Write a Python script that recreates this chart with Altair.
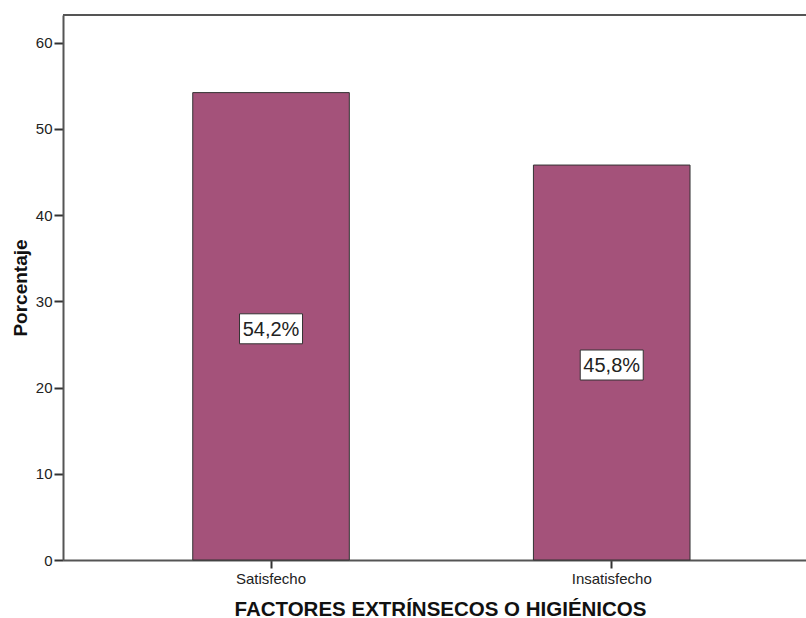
import altair as alt
import pandas as pd

categories = ["Satisfecho", "Insatisfecho"]
values = [54.2, 45.8]
labels = ["54,2%", "45,8%"]

df = pd.DataFrame({"cat": categories, "val": values, "lab": labels})
df["mid"] = df["val"] / 2

W, H = 743, 545
YMAX = 63.2

x_scale = alt.Scale(domain=categories, paddingInner=0.5404, paddingOuter=0.3606, align=0.528)
y_scale = alt.Scale(domain=[0, YMAX], nice=False, zero=True)

x_axis = alt.Axis(
    title="FACTORES EXTRÍNSECOS O HIGIÉNICOS",
    titleFont="Liberation Sans", titleFontSize=20.5, titleFontWeight="bold", titleColor="#111",
    titleX=377, titleY=55, titleBaseline="alphabetic", titleAlign="center",
    labelFont="Liberation Sans", labelFontSize=15, labelColor="#222",
    labelBaseline="alphabetic", labelPadding=15, tickSize=8, tickColor="#333", tickWidth=2,
    domainColor="#555", domainWidth=2, labelAngle=0, grid=False,
)
y_axis = alt.Axis(
    title="Porcentaje", values=[0, 10, 20, 30, 40, 50, 60],
    titleFont="Liberation Sans", titleFontSize=19, titleFontWeight="bold", titleColor="#111",
    titleX=-43, titleY=H / 2, titleAlign="center", titleBaseline="middle", titleAngle=270,
    labelFont="Liberation Sans", labelFontSize=15, labelColor="#222", labelPadding=2,
    tickSize=9, tickColor="#333", tickWidth=2, domainColor="#555", domainWidth=2, grid=False,
)

base = alt.Chart(df)

bars = base.mark_bar(color="#A4527A", stroke="#333", strokeWidth=1).encode(
    x=alt.X("cat:N", scale=x_scale, axis=x_axis, sort=categories),
    y=alt.Y("val:Q", scale=y_scale, axis=y_axis),
)

box = base.mark_point(
    shape="M-1,-0.476H1V0.476H-1Z", size=3969, filled=True, fill="white",
    stroke="#333", strokeWidth=1, opacity=1, yOffset=2.5,
).encode(x=alt.X("cat:N", sort=categories), y="mid:Q")

text = base.mark_text(
    font="Liberation Sans", fontSize=20, color="#222", baseline="middle", align="center", dy=3.5,
).encode(x=alt.X("cat:N", sort=categories), y="mid:Q", text="lab:N")

top = alt.Chart(pd.DataFrame({"a": [0]})).mark_rule(color="#555", strokeWidth=2).encode(
    x=alt.value(0), x2=alt.value(W), y=alt.value(0)
)

chart = alt.layer(bars, box, text, top).properties(
    width=W, height=H,
    autosize=alt.AutoSizeParams(type="none"),
    padding={"left": 63, "top": 15, "right": 0, "bottom": 58},
).configure_view(stroke=None).configure(background="white")

chart.save("out.html", embed_options={"renderer": "svg", "actions": False})
